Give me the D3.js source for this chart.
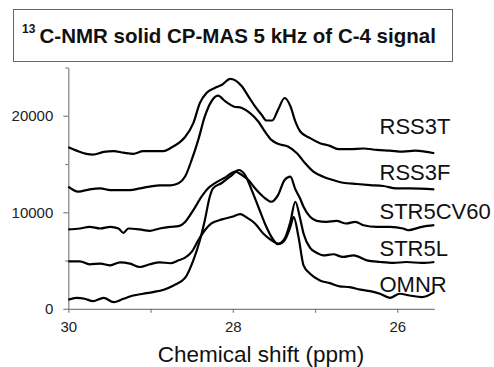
<!DOCTYPE html>
<html>
<head>
<meta charset="utf-8">
<script src="https://cdn.jsdelivr.net/npm/d3@7/dist/d3.min.js"></script>
<style>
  html, body { margin: 0; padding: 0; background: #fff; }
  svg { display: block; font-family: "Liberation Sans", Arial, Helvetica, sans-serif; }
</style>
</head>
<body>
<svg id="chart" width="494" height="367"></svg>
<script>
// Stacked 13C CP-MAS spectra (C-4 region), [ppm, intensity] per sample
const seriesNames = ["RSS3T", "RSS3F", "STR5CV60", "STR5L", "OMNR"];

const rss3t = [[30.00,16740],[29.90,16390],[29.78,16050],[29.70,15970],[29.57,16250],[29.45,16330],[29.33,16180],[29.21,16050],[29.09,16330],[28.97,16330],[28.84,16330],[28.76,16640],[28.66,17160],[28.58,17800],[28.48,19240],[28.40,21320],[28.32,22360],[28.22,22880],[28.13,23220],[28.03,23820],[27.97,23670],[27.89,23050],[27.81,22010],[27.73,20970],[27.65,20100],[27.59,19510],[27.52,19510],[27.45,20620],[27.37,21840],[27.30,21000],[27.24,19410],[27.18,18370],[27.06,17680],[26.94,17160],[26.82,16880],[26.72,16540],[26.58,16540],[26.41,16610],[26.25,16460],[26.09,16390],[25.93,16290],[25.78,16390],[25.55,16120]];

const rss3f = [[30.00,12650],[29.88,12130],[29.74,12380],[29.61,12480],[29.49,12300],[29.37,12300],[29.25,12300],[29.13,12480],[29.01,12650],[28.89,12790],[28.76,12790],[28.66,13000],[28.58,13700],[28.50,15420],[28.42,17500],[28.34,19930],[28.26,21490],[28.18,22080],[28.09,21490],[27.99,20970],[27.89,20800],[27.79,20280],[27.69,19410],[27.61,18370],[27.53,17500],[27.45,17090],[27.33,16810],[27.22,16120],[27.12,15080],[27.02,14210],[26.90,13690],[26.78,13340],[26.66,13060],[26.49,12930],[26.33,12820],[26.17,12720],[26.01,12480],[25.85,12480],[25.55,12380]];

const str5cv60 = [[30.00,8220],[29.86,8320],[29.74,8490],[29.61,8320],[29.49,8490],[29.39,8320],[29.33,7860],[29.27,8320],[29.13,8220],[29.01,8070],[28.89,8320],[28.76,8490],[28.66,8560],[28.58,9000],[28.48,10220],[28.38,11610],[28.30,12480],[28.22,13000],[28.09,13620],[27.97,14210],[27.89,13860],[27.81,13340],[27.73,12480],[27.63,11610],[27.53,11090],[27.45,11780],[27.37,13340],[27.30,13690],[27.24,12400],[27.18,11400],[27.14,10570],[27.06,9530],[26.98,9110],[26.86,9010],[26.74,9110],[26.62,8840],[26.51,9010],[26.41,8660],[26.25,8490],[26.09,8490],[25.93,8320],[25.87,8140],[25.70,8490],[25.55,8660]];

const str5l = [[30.00,4920],[29.86,4920],[29.74,4610],[29.61,4680],[29.49,4500],[29.37,4820],[29.25,4680],[29.13,4330],[29.01,4610],[28.89,4820],[28.76,4720],[28.66,5020],[28.58,5300],[28.50,5890],[28.42,7100],[28.34,8140],[28.26,8840],[28.13,9260],[28.01,9530],[27.91,9810],[27.83,9460],[27.73,8840],[27.63,7800],[27.53,7100],[27.45,6760],[27.37,7280],[27.30,9000],[27.24,11090],[27.18,9300],[27.14,7800],[27.06,6300],[26.98,5800],[26.90,5540],[26.78,5650],[26.66,5370],[26.53,5540],[26.37,5020],[26.21,4850],[26.05,4750],[25.89,4850],[25.70,4750],[25.55,4850]];

const omnr = [[30.00,940],[29.90,1140],[29.80,1040],[29.70,790],[29.57,1140],[29.45,690],[29.33,1040],[29.21,1380],[29.09,1560],[28.97,1730],[28.84,1980],[28.72,2420],[28.58,3200],[28.48,5020],[28.40,7100],[28.34,9180],[28.28,11610],[28.24,12480],[28.13,13060],[28.01,13860],[27.93,14380],[27.85,13860],[27.77,12300],[27.69,10570],[27.61,8840],[27.53,7450],[27.45,6690],[27.37,7100],[27.30,8490],[27.26,9530],[27.20,7400],[27.14,4500],[27.06,3640],[26.94,2940],[26.82,2660],[26.70,2320],[26.58,2250],[26.45,1980],[26.33,1830],[26.21,1560],[26.09,1140],[25.97,1560],[25.85,1380],[25.70,1210],[25.55,1730]];

const seriesData = [rss3t, rss3f, str5cv60, str5l, omnr];

const yMajorTicks = [0, 10000, 20000];
const yMinorTicks = [5000, 15000, 25000];
const xMajorTicks = [30, 28, 26];
const xMinorTicks = [29, 27];

const svg = d3.select("#chart");

// Title box
svg.append("rect")
  .attr("x", 13.5).attr("y", 9.5).attr("width", 439).attr("height", 52)
  .attr("fill", "#fff").attr("stroke", "#666").attr("stroke-width", 1);

const title = svg.append("text")
  .attr("x", 22).attr("y", 42.5)
  .attr("font-weight", "bold").attr("fill", "#111");
title.append("tspan").attr("font-size", 12).attr("dy", -10).text("13");
title.append("tspan").attr("font-size", 20.5).attr("dy", 10).attr("x", 39.5)
  .text("C-NMR solid CP-MAS 5 kHz of C-4 signal");

// Scales (chemical shift axis runs high to low)
const x = d3.scaleLinear().domain([30, 25.55]).range([68.3, 434.3]);
const y = d3.scaleLinear().domain([0, 25000]).range([308.8, 67.5]);

const axisColor = "#808080";

// Y axis
const gy = svg.append("g").attr("transform", "translate(68.3,0)");
gy.call(d3.axisLeft(y).tickValues(yMajorTicks).tickSize(5).tickSizeOuter(0).tickPadding(10)
  .tickFormat(d3.format("d")));
gy.append("g").call(d3.axisLeft(y).tickValues(yMinorTicks).tickSize(3).tickSizeOuter(0).tickFormat(""))
  .select(".domain").remove();

// X axis
const gx = svg.append("g").attr("transform", "translate(0,308.8)");
gx.call(d3.axisBottom(x).tickValues(xMajorTicks).tickSize(4).tickSizeOuter(0).tickPadding(9)
  .tickFormat(d3.format("d")));
gx.append("g").call(d3.axisBottom(x).tickValues(xMinorTicks).tickSize(4).tickSizeOuter(0).tickFormat(""))
  .select(".domain").remove();

svg.selectAll(".domain, .tick line").attr("stroke", axisColor).attr("stroke-width", 1.2);
svg.selectAll(".tick text").attr("font-size", 15).attr("fill", "#222")
  .attr("font-family", "Liberation Sans, Arial, sans-serif");

// Axis title
svg.append("text")
  .attr("x", 261).attr("y", 362)
  .attr("text-anchor", "middle").attr("font-size", 22.5).attr("fill", "#111")
  .text("Chemical shift (ppm)");

// Spectra
const line = d3.line().x(d => x(d[0])).y(d => y(d[1])).curve(d3.curveMonotoneX);
svg.append("g").selectAll("path")
  .data(seriesData)
  .join("path")
  .attr("d", line)
  .attr("fill", "none")
  .attr("stroke", "#000")
  .attr("stroke-width", 2.2)
  .attr("stroke-linejoin", "round");

// Sample labels
const labelBaselines = [133.5, 180, 218.5, 256, 292];
svg.append("g").selectAll("text")
  .data(seriesNames)
  .join("text")
  .attr("x", 379.5)
  .attr("y", (d, i) => labelBaselines[i])
  .attr("font-size", 22).attr("fill", "#111")
  .text(d => d);
</script>
</body>
</html>
